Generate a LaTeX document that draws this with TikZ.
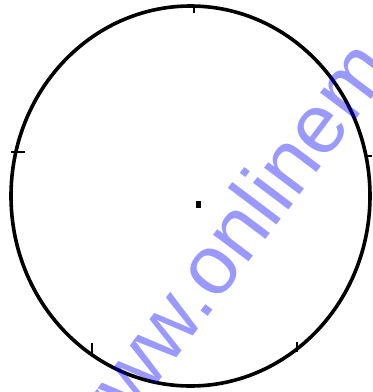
\documentclass[tikz,border=0pt]{standalone}
\usepackage{fontspec}
\usepackage{tikz}
\usetikzlibrary{positioning}
\newfontfamily\markfont{Liberation Sans}
\definecolor{WMBlue}{HTML}{0000FF}
\tikzset{
  circOutline/.style={draw=black, line width=3.6pt},
  circTick/.style={draw=black, line width=2.2pt},
  wmText/.style={
    text=WMBlue, text opacity=0.4, inner sep=0pt, anchor=base west,
    font=\markfont\fontsize{84}{84}\selectfont
  }
}
\begin{document}
\begin{tikzpicture}[x=1pt, y=-1pt]
  \clip (0,0) rectangle (373,392);
  \fill[white] (0,0) rectangle (373,392);

  % outline and centre
  \coordinate (ctr) at (190.5,196);
  \draw[circOutline] (ctr) ellipse [x radius=179.5, y radius=190];
  \fill[black] (196,201) rectangle (201,208);

  % ticks on the rim
  \draw[circTick] (194,5) -- (194,13);
  \draw[circTick] (11,152) -- (25,152);
  \draw[circTick] (372,156) -- (365,156);
  \draw[circTick] (92,353) -- (92,343);
  \draw[circTick] (297,352) -- (297,342);

  % watermark
  \node[wmText, rotate=53] (mark) at (96.8,464.2) {www.onlinem};
\end{tikzpicture}
\end{document}
